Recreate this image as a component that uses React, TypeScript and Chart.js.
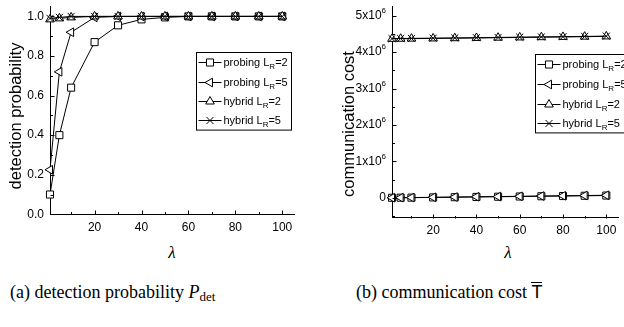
import React, { useEffect, useRef } from 'react';
import { Chart, registerables } from 'chart.js';
import { drawPoint } from 'chart.js/helpers';

Chart.register(...registerables);

// ---------- data ----------
const lambda = [1, 5, 10, 20, 30, 40, 50, 60, 70, 80, 90, 100];

const pdetProbingL2 = [0.1, 0.4, 0.64, 0.87, 0.955, 0.985, 0.995, 1.0, 1.0, 1.0, 1.0, 1.0];
const pdetProbingL5 = [0.225, 0.72, 0.92, 0.995, 1.0, 1.0, 1.0, 1.0, 1.0, 1.0, 1.0, 1.0];
const pdetHybridL2 = [0.985, 0.99, 0.995, 1.0, 1.0, 1.0, 1.0, 1.0, 1.0, 1.0, 1.0, 1.0];
const pdetHybridL5 = [0.99, 0.995, 1.0, 1.0, 1.0, 1.0, 1.0, 1.0, 1.0, 1.0, 1.0, 1.0];

const costProbingL2 = [2000, 4000, 6000, 12000, 18000, 25000, 31000, 37000, 44000, 50000, 57000, 63000];
const costProbingL5 = [3000, 5000, 8000, 15000, 22000, 29000, 36000, 43000, 50000, 57000, 64000, 71000];
const costHybridL2 = [4365000, 4368000, 4371000, 4377000, 4383000, 4390000, 4397000, 4404000, 4411000, 4418000, 4425000, 4432000];
const costHybridL5 = [4372000, 4375000, 4378000, 4384000, 4390000, 4397000, 4404000, 4411000, 4418000, 4425000, 4432000, 4440000];

const legendNames = ['probing', 'probing', 'hybrid', 'hybrid'];
const legendLR = ['2', '5', '2', '5'];

const xMajorTicks = [20, 40, 60, 80, 100];
const xMinorTicks = [10, 30, 50, 70, 90];
const pdetMajorTicks = [0, 0.2, 0.4, 0.6, 0.8, 1.0];
const pdetMinorTicks = [0.1, 0.3, 0.5, 0.7, 0.9];
const costMajorTicks = [0, 1e6, 2e6, 3e6, 4e6, 5e6];
const costMinorTicks = [-0.5e6, 0.5e6, 1.5e6, 2.5e6, 3.5e6, 4.5e6];

// ---------- styles ----------
const markerStyles: any[] = ['rect', 'triangle', 'triangle', 'crossRot'];
const markerRotations = [0, -90, 0, 0];
const drawOrder = [3, 2, 1, 0];
const SANS = "'Liberation Sans', Arial, sans-serif";
const SERIF = "'Liberation Serif', 'Times New Roman', serif";

function makeDatasets(series: number[][]) {
  return series.map((vals, i) => ({
    label: legendNames[i] + ' L' + legendLR[i],
    data: lambda.map((x, j) => ({ x, y: vals[j] })),
    order: drawOrder[i],
    borderColor: '#000',
    borderWidth: 1,
    backgroundColor: '#fff',
    pointStyle: markerStyles[i],
    pointRotation: markerRotations[i],
    pointRadius: 5,
    pointBackgroundColor: '#fff',
    pointBorderColor: '#000',
    pointBorderWidth: 1,
    tension: 0,
    clip: false as any,
  }));
}

type DecorCfg = {
  yMajor: number[];
  yMinor: number[];
  yLabel: (v: number) => { main: string; sup?: string };
  yTitle: string;
  yTitleX: number;
  yTitleY: number;
  legendLeft: number;
  legendTop: number;
  legendWidth: number;
  legendRowH: number;
};

function makeDecor(cfg: DecorCfg) {
  return {
    id: 'decor',
    afterDraw(chart: any) {
      const ctx: CanvasRenderingContext2D = chart.ctx;
      const xs = chart.scales.x;
      const ys = chart.scales.y;
      const area = chart.chartArea;
      ctx.save();
      ctx.strokeStyle = '#000';
      ctx.fillStyle = '#000';
      ctx.lineWidth = 1;
      const line = (x1: number, y1: number, x2: number, y2: number) => {
        ctx.beginPath();
        ctx.moveTo(x1, y1);
        ctx.lineTo(x2, y2);
        ctx.stroke();
      };
      const bottom = Math.round(area.bottom) + 0.5;
      const left = Math.round(area.left) + 0.5;
      // x ticks (inward)
      xMajorTicks.forEach((v) => {
        const px = Math.round(xs.getPixelForValue(v)) + 0.5;
        line(px, bottom, px, bottom - 4);
      });
      xMinorTicks.forEach((v) => {
        const px = Math.round(xs.getPixelForValue(v)) + 0.5;
        line(px, bottom, px, bottom - 2.5);
      });
      // y ticks (inward)
      cfg.yMajor.forEach((v) => {
        const py = Math.round(ys.getPixelForValue(v)) + 0.5;
        line(left, py, left + 4, py);
      });
      cfg.yMinor.forEach((v) => {
        const py = Math.round(ys.getPixelForValue(v)) + 0.5;
        line(left, py, left + 2.5, py);
      });
      // x labels
      ctx.font = `12px ${SANS}`;
      ctx.textAlign = 'center';
      ctx.textBaseline = 'top';
      xMajorTicks.forEach((v) => {
        ctx.fillText(String(v), xs.getPixelForValue(v), area.bottom + 7);
      });
      // y labels
      ctx.textBaseline = 'middle';
      cfg.yMajor.forEach((v) => {
        const py = ys.getPixelForValue(v);
        const lab = cfg.yLabel(v);
        const right = area.left - 6;
        if (lab.sup) {
          ctx.font = `8px ${SANS}`;
          const sw = ctx.measureText(lab.sup).width;
          ctx.textAlign = 'right';
          ctx.fillText(lab.sup, right, py - 5);
          ctx.font = `12px ${SANS}`;
          ctx.fillText(lab.main, right - sw, py);
        } else {
          ctx.font = `12px ${SANS}`;
          ctx.textAlign = 'right';
          ctx.fillText(lab.main, right, py);
        }
      });
      // y title
      ctx.save();
      ctx.translate(cfg.yTitleX, cfg.yTitleY);
      ctx.rotate(-Math.PI / 2);
      ctx.font = `16.5px ${SANS}`;
      ctx.textAlign = 'center';
      ctx.textBaseline = 'middle';
      ctx.fillText(cfg.yTitle, 0, 0);
      ctx.restore();
      // legend
      const lh = cfg.legendRowH;
      const bx = Math.round(cfg.legendLeft) + 0.5;
      const by = Math.round(cfg.legendTop) + 0.5;
      ctx.fillStyle = '#fff';
      ctx.fillRect(bx, by, cfg.legendWidth, lh * 4);
      ctx.strokeRect(bx, by, cfg.legendWidth, lh * 4);
      for (let i = 0; i < 4; i++) {
        const cy = by + lh / 2 + i * lh;
        ctx.strokeStyle = '#000';
        line(bx + 2, Math.round(cy) + 0.5, bx + 25, Math.round(cy) + 0.5);
        ctx.fillStyle = '#fff';
        ctx.strokeStyle = '#000';
        drawPoint(ctx, {
          pointStyle: markerStyles[i],
          rotation: markerRotations[i],
          radius: 5,
          borderWidth: 1,
        } as any, bx + 13.5, Math.round(cy) + 0.5);
        ctx.fillStyle = '#000';
        ctx.textAlign = 'left';
        ctx.textBaseline = 'alphabetic';
        let tx = bx + 27;
        const base = cy + 4;
        ctx.font = `11px ${SANS}`;
        const t1 = legendNames[i] + ' L';
        ctx.fillText(t1, tx, base);
        tx += ctx.measureText(t1).width;
        ctx.font = `8px ${SANS}`;
        ctx.fillText('R', tx, base + 3);
        tx += ctx.measureText('R').width;
        ctx.font = `11px ${SANS}`;
        ctx.fillText('=' + legendLR[i], tx, base);
      }
      ctx.restore();
    },
  };
}

function useChart(
  ref: React.RefObject<HTMLCanvasElement | null>,
  series: number[][],
  opts: {
    xMin: number; xMax: number; yMin: number; yMax: number;
    yWidth: number; xHeight: number; padRight: number; decor: DecorCfg;
  }
) {
  useEffect(() => {
    if (!ref.current) return;
    const chart = new Chart(ref.current, {
      type: 'line',
      data: { datasets: makeDatasets(series) as any },
      options: {
        animation: false,
        responsive: false,
        maintainAspectRatio: false,
        layout: { padding: { left: 0, right: opts.padRight, top: 0, bottom: 0 } },
        plugins: { legend: { display: false }, tooltip: { enabled: false } },
        scales: {
          x: {
            type: 'linear',
            min: opts.xMin,
            max: opts.xMax,
            grid: { display: false },
            border: { display: true, color: '#000', width: 1 },
            ticks: { display: false },
            afterFit: (s: any) => { s.height = opts.xHeight; },
          },
          y: {
            type: 'linear',
            min: opts.yMin,
            max: opts.yMax,
            grid: { display: false },
            border: { display: true, color: '#000', width: 1 },
            ticks: { display: false },
            afterFit: (s: any) => { s.width = opts.yWidth; },
          },
        },
      } as any,
      plugins: [makeDecor(opts.decor)],
    });
    return () => chart.destroy();
  }, []);
}

export default function App() {
  const refA = useRef<HTMLCanvasElement>(null);
  const refB = useRef<HTMLCanvasElement>(null);

  useChart(refA, [pdetProbingL2, pdetProbingL5, pdetHybridL2, pdetHybridL5], {
    xMin: 1, xMax: 105, yMin: 0, yMax: 1.0526,
    yWidth: 50, xHeight: 25.7, padRight: 18,
    decor: {
      yMajor: pdetMajorTicks,
      yMinor: pdetMinorTicks,
      yLabel: (v) => ({ main: v.toFixed(1) }),
      yTitle: 'detection probability',
      yTitleX: 16,
      yTitleY: 116,
      legendLeft: 196,
      legendTop: 52,
      legendWidth: 95,
      legendRowH: 19.4,
    },
  });

  useChart(refB, [costProbingL2, costProbingL5, costHybridL2, costHybridL5], {
    xMin: 1, xMax: 105.4, yMin: -0.545e6, yMax: 5.267e6,
    yWidth: 80, xHeight: 22.3, padRight: 0,
    decor: {
      yMajor: costMajorTicks,
      yMinor: costMinorTicks,
      yLabel: (v) => (v === 0 ? { main: '0' } : { main: `${Math.round(v / 1e6)}x10`, sup: '6' }),
      yTitle: 'communication cost',
      yTitleX: 37.5,
      yTitleY: 124,
      legendLeft: 223,
      legendTop: 53.5,
      legendWidth: 100,
      legendRowH: 19.6,
    },
  });

  return (
    <div
      style={{
        position: 'absolute', left: 0, top: 0, width: 624, height: 327,
        overflow: 'hidden', background: '#fff',
      }}
    >
      <canvas ref={refA} width={312} height={240} style={{ position: 'absolute', left: 0, top: 0 }} />
      <canvas ref={refB} width={312} height={240} style={{ position: 'absolute', left: 312, top: 0 }} />
      <div style={{ position: 'absolute', left: 162, top: 243, width: 20, textAlign: 'center', font: `italic 17px ${SERIF}`, lineHeight: '20px' }}>λ</div>
      <div style={{ position: 'absolute', left: 498, top: 243, width: 20, textAlign: 'center', font: `italic 17px ${SERIF}`, lineHeight: '20px' }}>λ</div>
      <div style={{ position: 'absolute', left: 10, top: 280, font: `18px ${SERIF}`, lineHeight: '24px', whiteSpace: 'nowrap' }}>
        (a) detection probability <i>P</i>
        <span style={{ fontSize: 13, position: 'relative', top: 3 }}>det</span>
      </div>
      <div style={{ position: 'absolute', left: 356, top: 280, font: `18px ${SERIF}`, lineHeight: '24px', whiteSpace: 'nowrap' }}>
        (b) communication cost{' '}
        <span style={{ display: 'inline-block', fontFamily: SANS, fontSize: 18, lineHeight: '16px', borderTop: '1.5px solid #000', paddingTop: 1 }}>T</span>
      </div>
    </div>
  );
}
